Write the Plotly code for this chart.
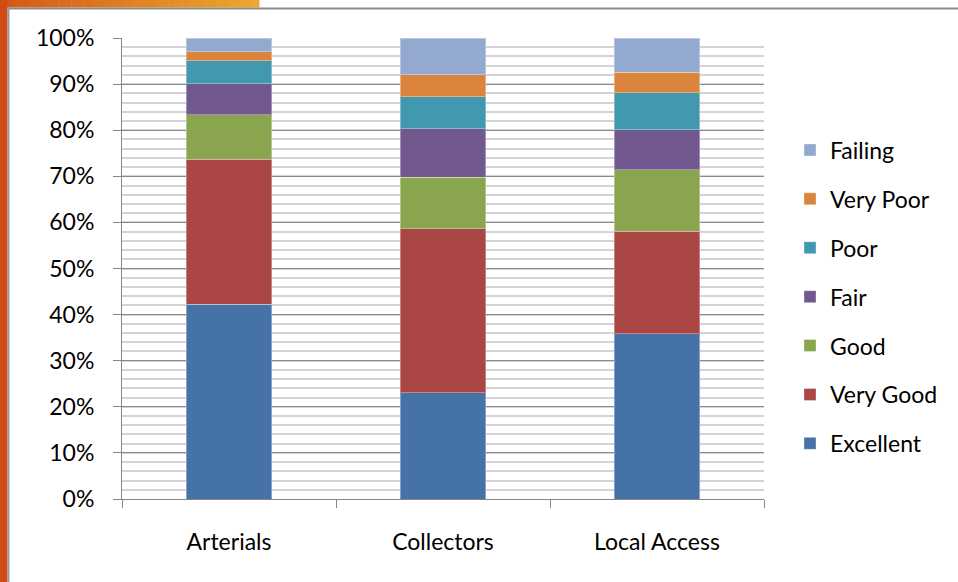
import plotly.graph_objects as go

categories = ["Arterials", "Collectors", "Local Access"]
series_names = ["Excellent", "Very Good", "Good", "Fair", "Poor", "Very Poor", "Failing"]
excellent = [42.3, 23.1, 35.9]
very_good = [31.4, 35.5, 22.2]
good = [9.6, 11.2, 13.3]
fair = [6.8, 10.5, 8.7]
poor = [5.0, 7.0, 8.0]
very_poor = [1.9, 4.7, 4.5]
failing = [3.0, 8.0, 7.4]
series_values = [excellent, very_good, good, fair, poor, very_poor, failing]
colors = ["#4572A7", "#AA4643", "#89A54E", "#71588F", "#4198AF", "#DB843D", "#93A9CF"]
y_ticks = [0, 10, 20, 30, 40, 50, 60, 70, 80, 90, 100]
y_tick_labels = ["0%", "10%", "20%", "30%", "40%", "50%", "60%", "70%", "80%", "90%", "100%"]

FONT = "Lato, 'Open Sans', sans-serif"
FS = 23

fig = go.Figure()
n_series = len(series_names)
for i, (name, vals, col) in enumerate(zip(series_names, series_values, colors)):
    fig.add_trace(go.Bar(
        x=categories, y=vals, name=name, legendgroup=name,
        legendrank=n_series - i,
        marker=dict(color=col, line=dict(color="rgba(255,255,255,0.35)", width=1)),
    ))

W, H = 958, 582
L, R, T, B = 122, 194, 38, 83
pw, ph = W - L - R, H - T - B

def px_x(x):
    return (x - L) / pw

def px_y(y):
    return (H - B - y) / ph

shapes = []
# top orange gradient band
n = 40
c0 = (213, 88, 26)
c1 = (236, 168, 44)
band_w = 259
for i in range(n):
    t = i / (n - 1)
    c = tuple(int(c0[k] + (c1[k] - c0[k]) * t) for k in range(3))
    x0 = band_w * i / n
    x1 = band_w * (i + 1) / n + 0.5
    shapes.append(dict(type="rect", xref="paper", yref="paper",
                       x0=px_x(x0), x1=px_x(x1), y0=px_y(0), y1=px_y(7.5),
                       fillcolor="rgb(%d,%d,%d)" % c, line=dict(width=0), layer="below"))
# left orange band
shapes.append(dict(type="rect", xref="paper", yref="paper",
                   x0=px_x(0), x1=px_x(7.5), y0=px_y(0), y1=px_y(H),
                   fillcolor="#D04B16", line=dict(width=0), layer="below"))
# gray frame lines
shapes.append(dict(type="rect", xref="paper", yref="paper",
                   x0=px_x(7.5), x1=px_x(W), y0=px_y(7.5), y1=px_y(9.5),
                   fillcolor="#8C8C8C", line=dict(width=0), layer="below"))
shapes.append(dict(type="rect", xref="paper", yref="paper",
                   x0=px_x(7.5), x1=px_x(9.5), y0=px_y(7.5), y1=px_y(H),
                   fillcolor="#9A9A9A", line=dict(width=0), layer="below"))

fig.update_layout(
    width=W, height=H,
    margin=dict(l=L, r=R, t=T, b=B, pad=0),
    paper_bgcolor="white", plot_bgcolor="white",
    barmode="stack", bargap=0.6,
    font=dict(family=FONT, size=FS, color="#000000"),
    showlegend=True,
    legend=dict(
        x=px_x(790), y=px_y(297), xanchor="left", yanchor="middle",
        traceorder="grouped", tracegroupgap=16,
        font=dict(family=FONT, size=FS, color="#000000"),
        itemwidth=30, bgcolor="rgba(0,0,0,0)",
    ),
    xaxis=dict(
        type="category", tickson="boundaries", ticks="outside", ticklen=8,
        tickcolor="#868686", tickwidth=1, showgrid=False,
        showline=True, linecolor="#868686", linewidth=1,
        tickfont=dict(family=FONT, size=FS, color="#000000"),
        ticklabelstandoff=22,
        fixedrange=True,
    ),
    yaxis=dict(
        range=[0, 100], tickvals=y_ticks, ticktext=y_tick_labels,
        ticks="outside", ticklen=8, tickcolor="#868686", tickwidth=1,
        showgrid=True, gridcolor="#8A8A8A", gridwidth=1,
        showline=True, linecolor="#868686", linewidth=1,
        zeroline=False,
        minor=dict(dtick=2, showgrid=True, gridcolor="#D4D4D4", gridwidth=2, ticks=""),
        tickfont=dict(family=FONT, size=FS, color="#000000"),
        ticklabelstandoff=14,
        fixedrange=True,
    ),
    shapes=shapes,
)

fig.write_html("out.html")
